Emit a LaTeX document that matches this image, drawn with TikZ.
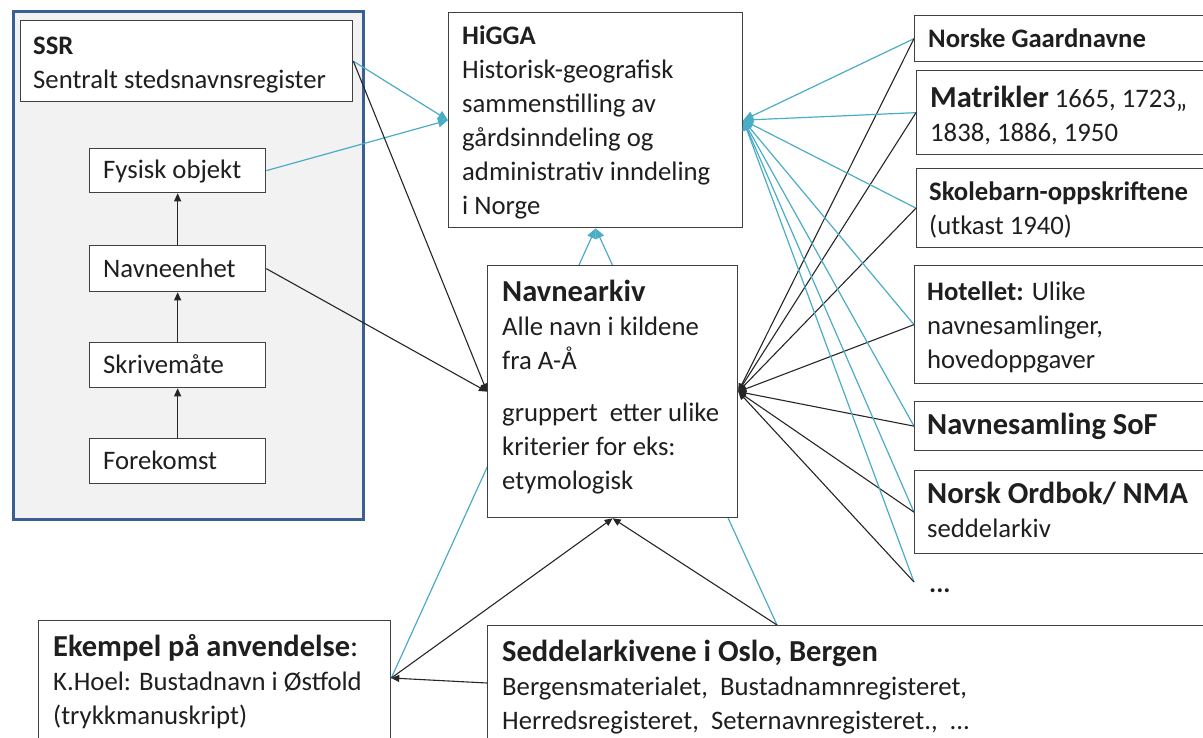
\documentclass[tikz,border=0pt]{standalone}
\usepackage{fontspec}
\setmainfont{Carlito}
\usetikzlibrary{arrows.meta,calc}

\definecolor{frameblue}{HTML}{3B5E94}
\definecolor{framegray}{HTML}{F2F2F2}
\definecolor{linkblue}{HTML}{4BACC6}
\definecolor{boxgray}{HTML}{404040}
\newcommand\fbase{\fontsize{26.7}{34}\selectfont}
\newcommand\fbig{\fontsize{30.5}{35}\selectfont}
% rows of a text block, baseline on the first row
\newcommand\rows[1]{\begin{tabular}[t]{@{}l@{}}#1\end{tabular}}

\tikzset{
  box/.style={draw=boxgray, line width=1.3pt, fill=white, anchor=north west, inner sep=0pt},
  txt/.style={anchor=base west, inner sep=0pt, font=\fbase, text=black!88},
  link/.style={linkblue, line width=1.2pt, -{Triangle[length=10pt,width=9pt]}},
  flow/.style={black!85, line width=1.1pt, -{Triangle[length=8pt,width=7pt]}},
}

\begin{document}
\begin{tikzpicture}[x=1pt,y=-1pt]
    \useasboundingbox (0,0) rectangle (1203,737);
    \clip (0,0) rectangle (1203,737);
    % SSR group
    \node[box, draw=frameblue, fill=framegray, line width=3pt, minimum width=350, minimum height=508] (ssrframe) at (12,10) {};
    \node[box, minimum width=332, minimum height=81] (ssr) at (20,20) {};
    \node[box, minimum width=176, minimum height=44] (fysisk) at (89,148) {};
    \node[box, minimum width=176, minimum height=46] (enhet) at (89,245) {};
    \node[box, minimum width=176, minimum height=45] (skrive) at (89,342) {};
    \node[box, minimum width=176, minimum height=45] (forekomst) at (89,438) {};
    % HiGGA
    \node[box, minimum width=294, minimum height=215] (higga) at (448,12) {};
    % Sources on the right
    \node[box, minimum width=320, minimum height=46] (gaard) at (914,15) {};
    \node[box, minimum width=320, minimum height=84] (matr) at (916,70) {};
    \node[box, minimum width=320, minimum height=79] (skole) at (916,168) {};
    \node[box, minimum width=320, minimum height=118] (hotell) at (914,265) {};
    \node[box, minimum width=320, minimum height=49] (sof) at (914,401) {};
    \node[box, minimum width=320, minimum height=83] (nma) at (914,470) {};
    \node[txt, font=\fbase\bfseries] (dots) at (929,592) {...};
    \coordinate (dotspt) at (914,582);
    % Bottom boxes
    \node[box, minimum width=352, minimum height=140] (ekempel) at (38,620) {};
    \node[box, minimum width=760, minimum height=140] (sedd) at (487,625) {};
    \coordinate (ekin) at ($(ekempel.north east)+(0,58)$);
    \coordinate (seddtop) at ($(sedd.north west)+(290,0)$);
    \coordinate (seddleft) at ($(sedd.north west)+(0,58)$);
    % links to HiGGA passing behind Navnearkiv
    \draw[link] (ekin) -- (higga.south);
    \draw[link] (seddtop) -- (higga.south);
    % Navnearkiv
    \node[box, minimum width=250, minimum height=252] (arkiv) at (487,265) {};

    % Connectors
    \draw[flow] (forekomst.north) -- (skrive.south);
    \draw[flow] (skrive.north) -- (enhet.south);
    \draw[flow] (enhet.north) -- (fysisk.south);
    \draw[link] (ssr.east) -- (higga.west);
    \draw[link] (fysisk.east) -- (higga.west);
    \draw[flow] (ssr.east) -- (arkiv.west);
    \draw[flow] (enhet.east) -- (arkiv.west);
    \foreach \src in {gaard.west, matr.west, skole.west, hotell.west, sof.west, nma.west, dotspt} {
        \draw[link] (\src) -- (higga.east);
        \draw[flow] (\src) -- (arkiv.east);
    }
    \draw[flow] (ekin) -- (arkiv.south);
    \draw[flow] (seddtop) -- (arkiv.south);
    \draw[flow] (seddleft) -- (ekin);

    % Texts
    \node[txt] (ssr-t) at (33,54) {\rows{\bfseries SSR\\Sentralt stedsnavnsregister}};
    \node[txt] (fysisk-t) at (103,178) {Fysisk objekt};
    \node[txt] (enhet-t) at (103,277) {Navneenhet};
    \node[txt] (skrive-t) at (103,373) {Skrivemåte};
    \node[txt] (forekomst-t) at (103,469) {Forekomst};
    \node[txt] (higga-t) at (462,44) {\rows{\bfseries HiGGA\\Historisk-geografisk\\sammenstilling av\\gårdsinndeling og\\administrativ inndeling\\i Norge}};
    \node[txt] (arkiv-t) at (502,301) {\rows{\fbig\bfseries Navnearkiv\\Alle navn i kildene\\fra A-Å\\[18pt]gruppert\ \ etter ulike\\kriterier for eks:\\etymologisk}};
    \node[txt] (gaard-t) at (928,47) {\bfseries Norske Gaardnavne};
    \node[txt] (matr-t) at (930,107) {\rows{{\fbig\bfseries Matrikler} 1665, 1723,,\\1838, 1886, 1950}};
    \node[txt] (skole-t) at (929,200) {\rows{\bfseries Skolebarn-oppskriftene\\(utkast 1940)}};
    \node[txt] (hotell-t) at (927,300) {\rows{{\bfseries Hotellet:} Ulike\\navnesamlinger,\\hovedoppgaver}};
    \node[txt] (sof-t) at (927,434) {\fbig\bfseries Navnesamling SoF};
    \node[txt] (nma-t) at (927,503) {\rows{\fbig\bfseries Norsk Ordbok/ NMA\\seddelarkiv}};
    \node[txt] (ekempel-t) at (53,656) {\rows{{\fbig\bfseries Ekempel på anvendelse}{\fbig:}\\K.Hoel: Bustadnavn i Østfold\\(trykkmanuskript)}};
    \node[txt] (sedd-t) at (502,661) {\rows{\fbig\bfseries Seddelarkivene i Oslo, Bergen\\Bergensmaterialet,\ \ Bustadnamnregisteret,\\Herredsregisteret,\ \ Seternavnregisteret.,\ \ ...}};
\end{tikzpicture}
\end{document}
